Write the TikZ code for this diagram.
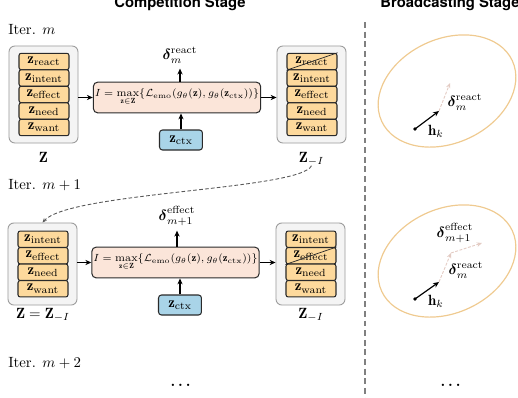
\documentclass[tikz,border=0pt]{standalone}
\usepackage{amsmath,amssymb}
\usepackage{fontspec}
\newfontfamily\titlefont{TeX Gyre Heros}
\usetikzlibrary{arrows.meta}
\definecolor{itemfill}{HTML}{FDD99C}
\definecolor{itemdraw}{HTML}{2A2A2A}
\definecolor{contfill}{HTML}{F4F4F4}
\definecolor{contdraw}{HTML}{9A9A9A}
\definecolor{formfill}{HTML}{FBE5D9}
\definecolor{ctxfill}{HTML}{A9D4E8}
\definecolor{ellcol}{HTML}{EFCA90}
\definecolor{fadecol}{HTML}{E3CBC3}
\begin{document}
\begin{tikzpicture}[x=0.675pt,y=-0.675pt,
  cont/.style={rectangle, rounded corners=4pt, fill=contfill, draw=contdraw, line width=0.6pt, minimum width=46.6pt, inner sep=0pt},
  item/.style={rectangle, rounded corners=1.5pt, fill=itemfill, draw=itemdraw, line width=0.7pt, minimum width=33.75pt, minimum height=11.1pt, inner sep=0pt},
  formula/.style={rectangle, rounded corners=3pt, fill=formfill, draw=itemdraw, line width=0.7pt, minimum width=111pt, minimum height=20.8pt, inner sep=1pt, font=\fontsize{7.2}{9}\selectfont},
  ctxbox/.style={rectangle, rounded corners=2pt, fill=ctxfill, draw=itemdraw, line width=0.7pt, minimum width=29pt, minimum height=13.5pt, inner sep=0pt},
  arr/.style={-{Stealth[length=4pt,width=3.5pt]}, line width=0.8pt},
  fade/.style={-{Stealth[length=3.5pt,width=3pt]}, line width=0.6pt, draw=fadecol, dash pattern=on 2pt off 1pt},
  lbl/.style={inner sep=0pt, anchor=base},
  iter/.style={inner sep=0pt, anchor=base west},
  strike/.style={line width=0.5pt, draw=itemdraw},
  ell/.style={draw=ellcol, line width=0.8pt}
]
\useasboundingbox (0,0) rectangle (518,398);

% titles
\node[font=\titlefont\bfseries, inner sep=0pt, anchor=base] (T1) at (180,7) {Competition Stage};
\node[font=\titlefont\bfseries, inner sep=0pt, anchor=base] (T2) at (450,7) {Broadcasting Stage};

% separator
\coordinate (s1) at (365,22);
\coordinate (s2) at (365,398);
\draw[draw=gray, line width=0.8pt, dash pattern=on 4pt off 2.5pt] (s1) -- (s2);

% iteration labels
\node[iter] (I1) at (8,34.5) {Iter. $m$};
\node[iter] (I2) at (8,189.5) {Iter. $m+1$};
\node[iter] (I3) at (8,367.5) {Iter. $m+2$};

% ===== Row 1 =====
\node[cont, minimum height=65.5pt] (C1) at (43.5,94.5) {};
\node[item] (a1) at (44,61.5) {$\mathbf{z}_{\text{react}}$};
\node[item] (a2) at (44,78) {$\mathbf{z}_{\text{intent}}$};
\node[item] (a3) at (44,94.5) {$\mathbf{z}_{\text{effect}}$};
\node[item] (a4) at (44,111) {$\mathbf{z}_{\text{need}}$};
\node[item] (a5) at (44,127.5) {$\mathbf{z}_{\text{want}}$};
\node[lbl] (L1) at (43.5,162) {$\mathbf{Z}$};

\node[formula] (F1) at (177,97.5) {$I=\max\limits_{\mathbf{z}\in\mathbf{Z}}\{\mathcal{L}_{\text{emo}}(g_\theta(\mathbf{z}),g_\theta(\mathbf{z}_{\text{ctx}}))\}$};
\node[ctxbox] (X1) at (181,140) {$\mathbf{z}_{\text{ctx}}$};
\node (D1) at (180,55) {$\boldsymbol{\delta}^{\text{react}}_{m}$};

\node[cont, minimum height=65.5pt] (C2) at (311.5,94.5) {};
\node[item] (b1) at (312,61.5) {$\mathbf{z}_{\text{react}}$};
\node[item] (b2) at (312,78) {$\mathbf{z}_{\text{intent}}$};
\node[item] (b3) at (312,94.5) {$\mathbf{z}_{\text{effect}}$};
\node[item] (b4) at (312,111) {$\mathbf{z}_{\text{need}}$};
\node[item] (b5) at (312,127.5) {$\mathbf{z}_{\text{want}}$};
\draw[strike] (b1.south west) -- (b1.north east);
\node[lbl] (L2) at (311.5,162) {$\mathbf{Z}_{-I}$};

\draw[arr] (C1.east |- F1.west) -- (F1.west);
\draw[arr] (F1.east) -- (F1.east -| C2.west);
\draw[arr] (X1.north) -- (X1.north |- F1.south);
\draw[arr] (F1.north -| D1.south) -- (D1.south);

% ===== Row 2 =====
\node[cont, minimum height=55.4pt] (C3) at (42.5,264) {};
\node[item] (c1) at (43,239.25) {$\mathbf{z}_{\text{intent}}$};
\node[item] (c2) at (43,255.75) {$\mathbf{z}_{\text{effect}}$};
\node[item] (c3) at (43,272.25) {$\mathbf{z}_{\text{need}}$};
\node[item] (c4) at (43,288.75) {$\mathbf{z}_{\text{want}}$};
\node[lbl] (L3) at (43,318) {$\mathbf{Z}=\mathbf{Z}_{-I}$};

\node[formula] (F2) at (175.5,262.5) {$I=\max\limits_{\mathbf{z}\in\mathbf{Z}}\{\mathcal{L}_{\text{emo}}(g_\theta(\mathbf{z}),g_\theta(\mathbf{z}_{\text{ctx}}))\}$};
\node[ctxbox] (X2) at (180,305) {$\mathbf{z}_{\text{ctx}}$};
\node (D2) at (177,216) {$\boldsymbol{\delta}^{\text{effect}}_{m+1}$};

\node[cont, minimum height=55.4pt] (C4) at (310.5,264) {};
\node[item] (d1) at (311,239.25) {$\mathbf{z}_{\text{intent}}$};
\node[item] (d2) at (311,255.75) {$\mathbf{z}_{\text{effect}}$};
\node[item] (d3) at (311,272.25) {$\mathbf{z}_{\text{need}}$};
\node[item] (d4) at (311,288.75) {$\mathbf{z}_{\text{want}}$};
\draw[strike] (d2.south west) -- (d2.north east);
\node[lbl] (L4) at (311,318) {$\mathbf{Z}_{-I}$};

\draw[arr] (C3.east |- F2.west) -- (F2.west);
\draw[arr] (F2.east) -- (F2.east -| C4.west);
\draw[arr] (X2.north) -- (X2.north |- F2.south);
\draw[arr] (F2.north -| D2.south) -- (D2.south);

% dashed loop
\draw[draw=black!65, line width=0.6pt, dash pattern=on 2.5pt off 1.5pt, -{Stealth[length=3pt,width=2.5pt]}]
  (L2.south) .. controls (300,190) and (70,192) .. (C3.north);

% dots
\node (E1) at (182,385) {$\boldsymbol{\dots}$};
\node (E2) at (452,385) {$\boldsymbol{\dots}$};

% ===== Broadcasting =====
\draw[ell, rotate around={25:(447,91)}] (447,91) ellipse [x radius=72, y radius=52];
\coordinate (h1) at (415,129);
\coordinate (p1) at (439,111);
\coordinate (q1) at (450,83);
\fill (h1) circle (1.8);
\draw[arr] (h1) -- (p1);
\draw[fade] (p1) -- (q1);
\node (H1) at (436,131) {$\mathbf{h}_k$};
\node (G1) at (465,102) {$\boldsymbol{\delta}^{\text{react}}_{m}$};

\draw[ell, rotate around={25:(447,261)}] (447,261) ellipse [x radius=72, y radius=52];
\coordinate (h2) at (415,299);
\coordinate (p2) at (439,282);
\coordinate (q2) at (451,253);
\coordinate (r2) at (482,243);
\fill (h2) circle (1.8);
\draw[arr] (h2) -- (p2);
\draw[fade] (p2) -- (q2);
\draw[fade] (q2) -- (r2);
\node (H2) at (436,301) {$\mathbf{h}_k$};
\node (G2) at (466,270) {$\boldsymbol{\delta}^{\text{react}}_{m}$};
\node (G3) at (455,233) {$\boldsymbol{\delta}^{\text{effect}}_{m+1}$};
\end{tikzpicture}
\end{document}
